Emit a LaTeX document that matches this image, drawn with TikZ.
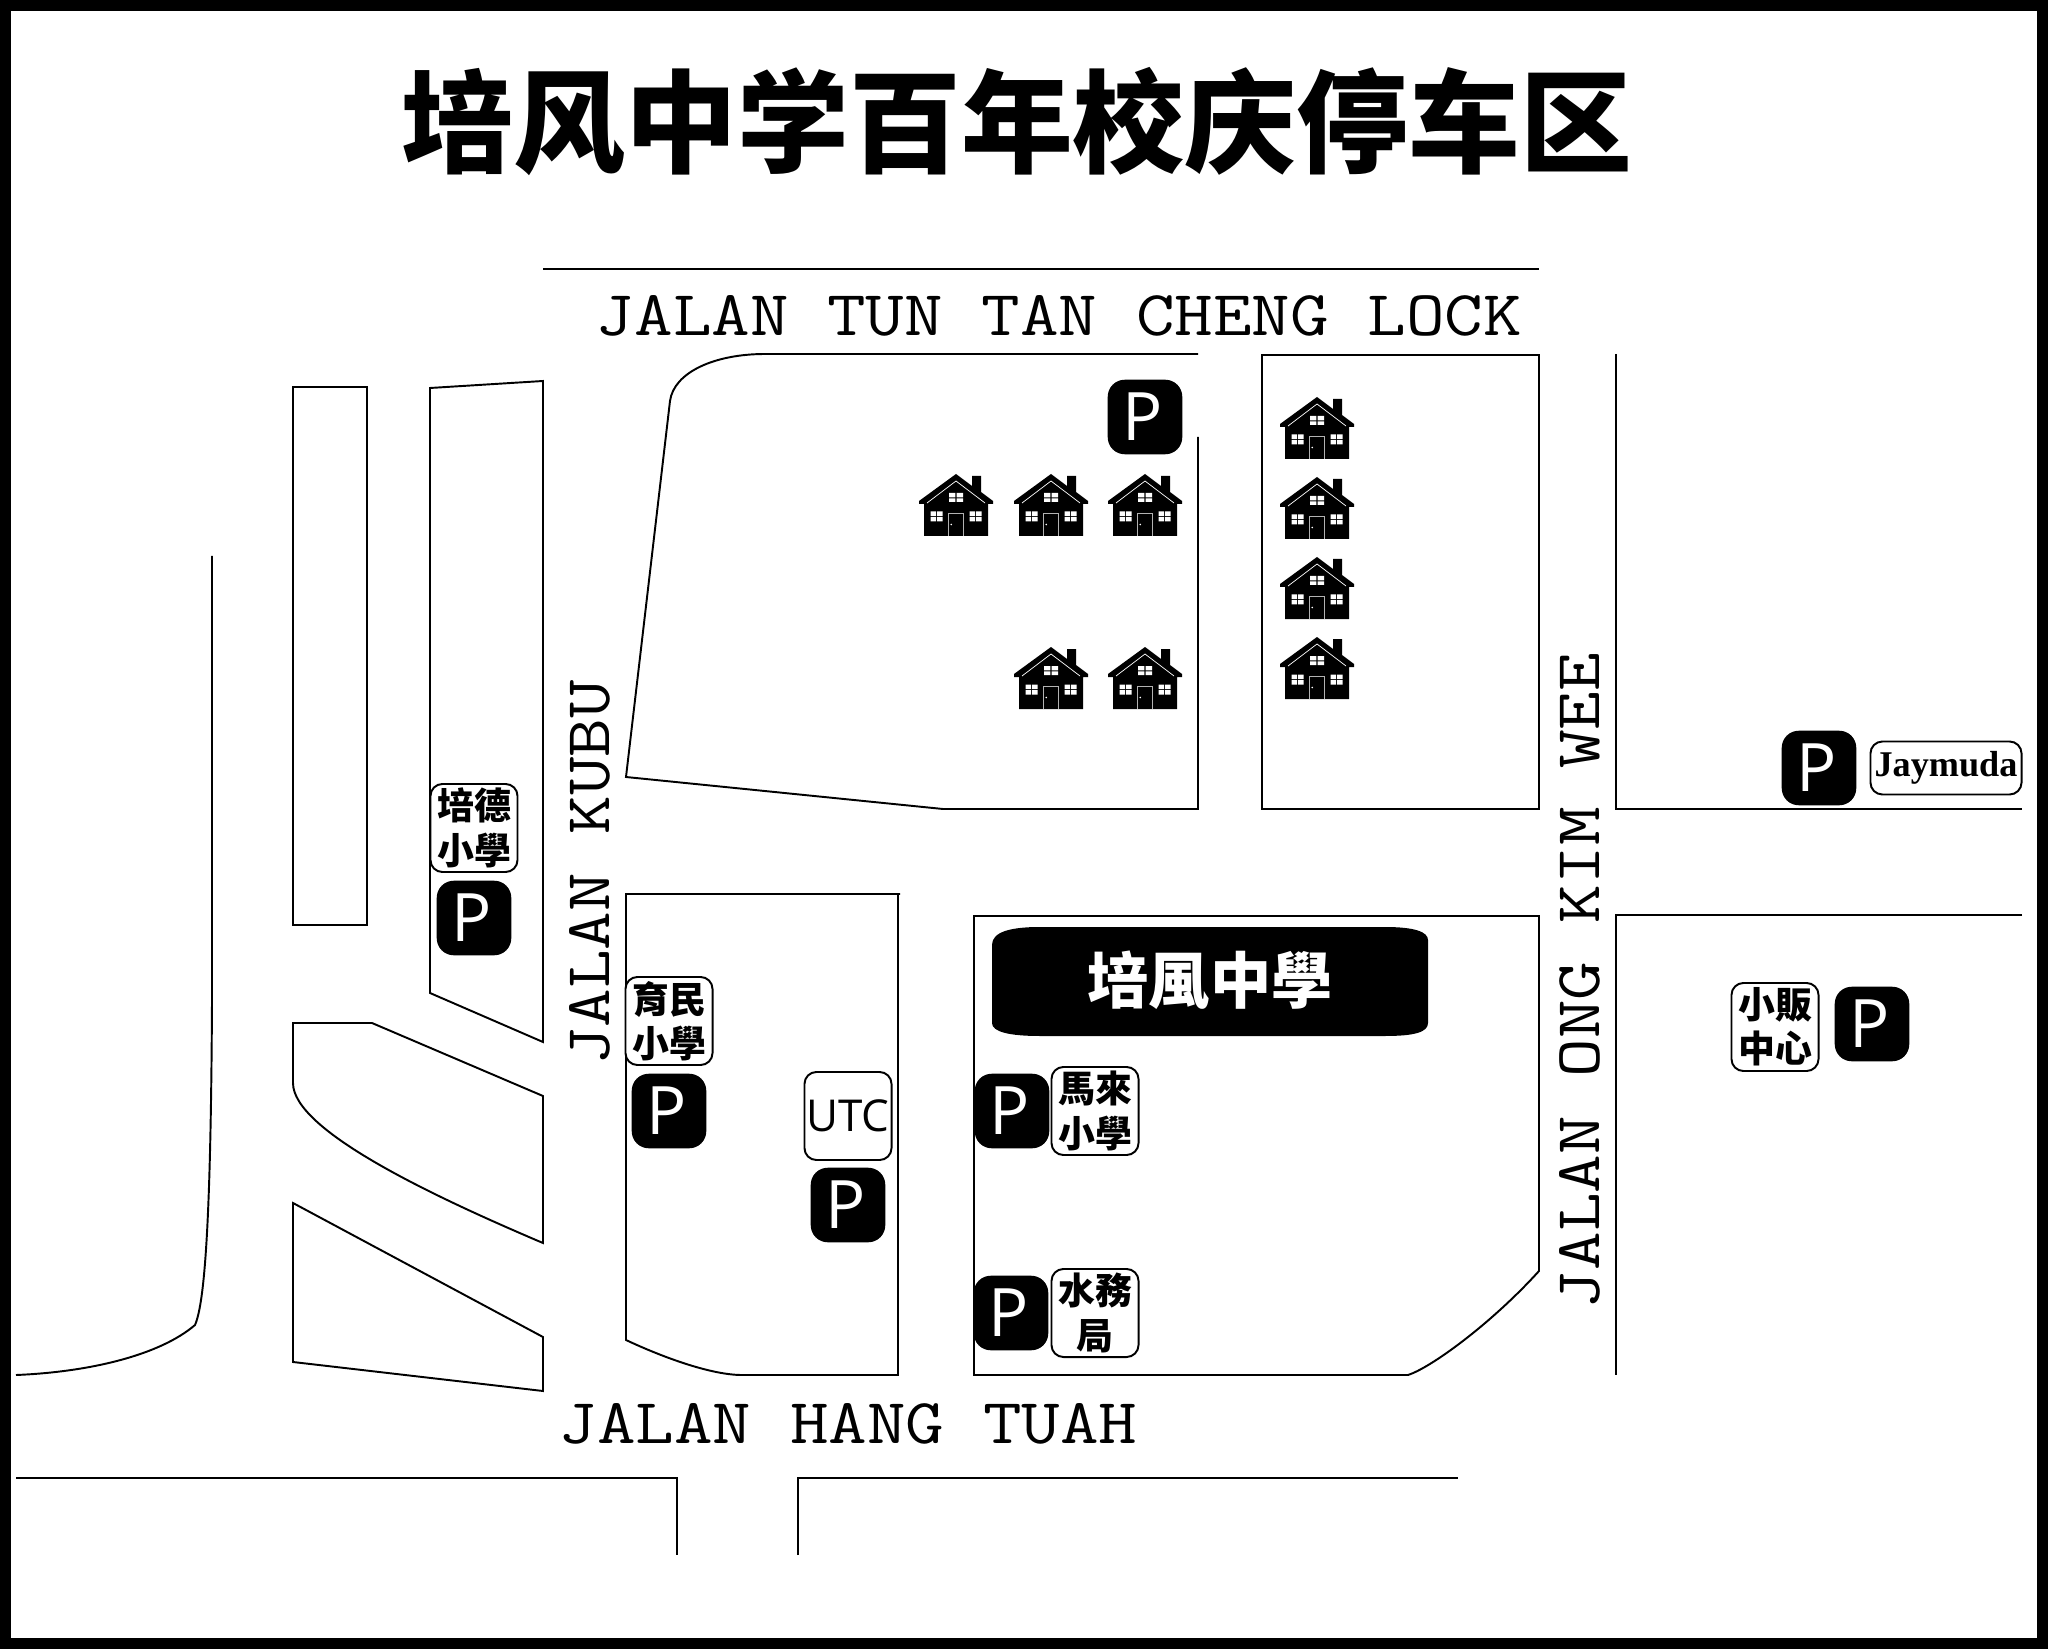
\documentclass[tikz,border=0pt]{standalone}
\usepackage{fontspec}
\newfontfamily\cjk{Noto Sans CJK TC}
\newfontfamily\cjksc{Noto Sans CJK SC}
\newfontfamily\latinsans{Open Sans}
\newfontfamily\latinserif{Liberation Serif}
\newfontfamily\roadfont[FakeStretch=1.171]{Latin Modern Mono}
\tikzset{
  road/.style={line width=0.55pt, black, line join=miter},
  parking/.style={fill=black, text=white, rounded corners=0.17cm, minimum size=0.745cm, inner sep=0pt,
    font=\latinsans\fontsize{19}{19}\selectfont},
  labelbox/.style={draw=black, line width=0.55pt, fill=white, rounded corners=0.12cm, minimum width=0.87cm, minimum height=0.88cm,
    inner sep=0pt, align=center, font=\cjk\bfseries\fontsize{10.5}{12.6}\selectfont},
  roadname/.style={inner sep=0pt, font=\roadfont\fontsize{18.2}{21}\selectfont},
}
\newcommand{\housepic}[2]{
  \begin{scope}[shift={(#1,#2)}]
    \fill (-32,0) -- (-32,-32) -- (-37,-32) -- (-37,-35) -- (0,-62) -- (16,-50) -- (16,-60) -- (25,-60) -- (25,-44) -- (37,-35) -- (37,-32) -- (32,-32) -- (32,0) -- cycle;
    \draw[white, line width=0.2pt] (-29,-33) -- (0,-55) -- (29,-33);
    \draw[white!70!black, line width=0.2pt] (-7.5,0) -- (-7.5,-23) -- (7.5,-23) -- (7.5,0);
    \fill[white] (-4.8,-11.5) circle [radius=0.8];
    \fill[white] (-7,-43) rectangle (-0.6,-38.7) (0.6,-43) rectangle (7,-38.7) (-7,-37.6) rectangle (-0.6,-34) (0.6,-37.6) rectangle (7,-34);
    \foreach \wx in {-25.5,13.5}{
      \fill[white] (\wx,-24.5) rectangle +(5.5,4.5) (\wx+6.5,-24.5) rectangle +(5.5,4.5) (\wx,-19) rectangle +(5.5,4.5) (\wx+6.5,-19) rectangle +(5.5,4.5);
    }
  \end{scope}
}
\begin{document}
\begin{tikzpicture}[x=0.01cm, y=-0.01cm]
  \useasboundingbox (0,0) rectangle (2048,1649);
  \draw[line width=0.11cm] (5.5,5.5) rectangle (2042.5,1643.5);

  % top and blocks
  \draw[road] (543,269) -- (1539,269);
  \draw[road] (1198,437) -- (1198,809) -- (943,809) -- (626,777) -- (670,401) .. controls (674,372) and (715,354) .. (765,354) -- (1198,354);
  \draw[road] (1262,355) -- (1539,355) -- (1539,809) -- (1262,809) -- cycle;
  \draw[road] (1616,354) -- (1616,809) -- (2022,809);
  \draw[road] (2022,915) -- (1616,915) -- (1616,1375);
  \draw[road] (974,1375) -- (974,916) -- (1539,916) -- (1539,1271) .. controls (1490,1325) and (1430,1368) .. (1408,1375) -- cycle;
  \draw[road] (900,894) -- (626,894) -- (626,1340) .. controls (660,1356) and (710,1375) .. (742,1375) -- (898,1375) -- (898,894);

  % left side
  \draw[road] (293,387) rectangle (367,925);
  \draw[road] (430,388) -- (543,381) -- (543,1042) -- (430,993) -- cycle;
  \draw[road] (293,1023) -- (372,1023) -- (543,1096) -- (543,1243) .. controls (430,1195) and (293,1130) .. (293,1083) -- cycle;
  \draw[road] (293,1203) -- (543,1337) -- (543,1391) -- (293,1362) -- cycle;
  \draw[road] (212,556) -- (212,1000) .. controls (211,1200) and (206,1300) .. (195,1325) .. controls (160,1355) and (90,1372) .. (16,1375);
  \draw[road] (16,1478) -- (677,1478) -- (677,1555);
  \draw[road] (798,1555) -- (798,1478) -- (1458,1478);

  % houses
  \foreach \hx/\hy in {956/536,1051/536,1145/536,1051/709,1145/709,1317/459,1317/539,1317/619,1317/699}{
    \housepic{\hx}{\hy}
  }

  % school block
  \fill (992,945) .. controls (992,932) and (1010,927) .. (1040,927) -- (1385,927) .. controls (1415,927) and (1428,932) .. (1428,940) -- (1428,1023) .. controls (1428,1032) and (1415,1036) .. (1385,1036) -- (1040,1036) .. controls (1010,1036) and (992,1032) .. (992,1023) -- cycle;
  \node[text=white, font=\cjk\bfseries\fontsize{17.4}{18}\selectfont, inner sep=0pt] (school) at (1210,980) {培風中學};

  \node[font=\cjksc\bfseries\fontsize{31.8}{32}\selectfont, inner sep=0pt] (title) at (1017,122) {培风中学百年校庆停车区};

  \node[roadname] (tuntan) at (1059,316) {JALAN TUN TAN CHENG LOCK};
  \node[roadname] (hangtuah) at (848,1424) {JALAN HANG TUAH};
  \node[roadname, rotate=90] (kubu) at (590,873) {JALAN KUBU};
  \node[roadname, rotate=90] (ongkim) at (1580,981) {JALAN ONG KIM WEE};

  % labels and parking
  \node[labelbox] (peide) at (474,828) {培德\\小學};
  \node[labelbox] (yumin) at (669,1021) {育民\\小學};
  \node[labelbox, font=\latinsans\fontsize{12.5}{13}\selectfont] (utc) at (848,1116) {UTC};
  \node[labelbox] (malay) at (1095,1111) {馬來\\小學};
  \node[labelbox] (water) at (1095,1313) {水務\\局};
  \node[labelbox] (hawker) at (1775,1027) {小販\\中心};
  \node[labelbox, minimum width=1.51cm, minimum height=0.53cm, font=\latinserif\bfseries\fontsize{10.3}{11}\selectfont] (jaymuda) at (1946,768) {Jaymuda};

  \foreach \name/\px/\py in {pa/1145/417,pb/474/918,pc/669/1111,pd/848/1205,pe/1012/1111,pf/1011/1313,pg/1819/768,ph/1872/1024}{
    \node[parking] (\name) at (\px,\py) {P\kern1.6pt};
  }
\end{tikzpicture}
\end{document}
